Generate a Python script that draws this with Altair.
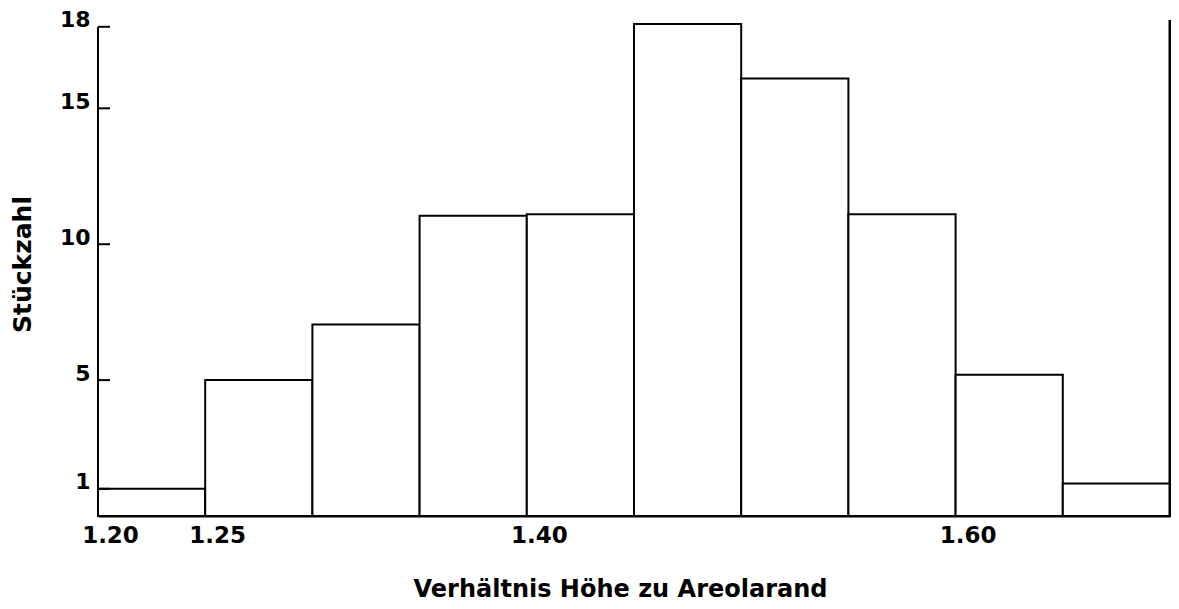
import altair as alt
import pandas as pd

# Histogram data
bin_start = [1.20, 1.25, 1.30, 1.35, 1.40, 1.45, 1.50, 1.55, 1.60, 1.65]
bin_end = [1.25, 1.30, 1.35, 1.40, 1.45, 1.50, 1.55, 1.60, 1.65, 1.70]
counts = [1.0, 5.0, 7.05, 11.05, 11.1, 18.1, 16.1, 11.1, 5.2, 1.2]
y_tick_values = [1, 5, 10, 15, 18]
x_label_values = [1.20, 1.25, 1.40, 1.60]
x_domain = [1.20, 1.70]
y_domain = [0, 18.25]
y_axis_span = [0, 18]

W, H = 1072, 496
FONT = "DejaVu Sans"

bars_df = pd.DataFrame({"start": bin_start, "end": bin_end, "count": counts})
ticks_df = pd.DataFrame({"count": y_tick_values})
yline_df = pd.DataFrame({"count": [y_axis_span[0]], "count_hi": [y_axis_span[1]]})
frame_df = pd.DataFrame({"start": [x_domain[1]]})

xs = alt.Scale(domain=x_domain, nice=False, zero=False)
ys = alt.Scale(domain=y_domain, nice=False)

bars = alt.Chart(bars_df).mark_rect(
    fill="white", stroke="black", strokeWidth=2
).encode(
    x=alt.X(
        "start:Q",
        scale=xs,
        axis=alt.Axis(
            values=x_label_values,
            format=".2f",
            ticks=False,
            grid=False,
            domain=True,
            domainColor="black",
            domainWidth=2,
            labelFont=FONT,
            labelFontSize=23,
            labelFontWeight="bold",
            labelColor="black",
            labelOffset=12,
            labelPadding=8,
            labelBaseline="top",
            labelFlush=False,
            labelOverlap=False,
            title="Verhältnis Höhe zu Areolarand",
            titleFont=FONT,
            titleFontSize=24,
            titleFontWeight="bold",
            titleColor="black",
            titleX=522,
            titleY=73,
            titleAlign="center",
            titleBaseline="middle",
        ),
    ),
    x2="end:Q",
    y=alt.Y(
        "count:Q",
        scale=ys,
        axis=alt.Axis(
            values=y_tick_values,
            ticks=False,
            grid=False,
            domain=False,
            labelFont=FONT,
            labelFontSize=22,
            labelFontWeight="bold",
            labelColor="black",
            labelBaseline="alphabetic",
            labelPadding=8,
            labelOverlap=False,
            title="Stückzahl",
            titleFont=FONT,
            titleFontSize=25,
            titleFontWeight="bold",
            titleColor="black",
            titleAngle=270,
            titleX=-76,
            titleY=244,
            titleAlign="center",
            titleBaseline="middle",
        ),
    ),
    y2=alt.datum(0),
)

yticks = alt.Chart(ticks_df).mark_rule(color="black", strokeWidth=2).encode(
    y=alt.Y("count:Q", scale=ys),
    x=alt.value(0),
    x2=alt.value(12),
)

yline = alt.Chart(yline_df).mark_rule(color="black", strokeWidth=2).encode(
    y=alt.Y("count:Q", scale=ys),
    y2="count_hi:Q",
    x=alt.value(0),
)

frame = alt.Chart(frame_df).mark_rule(color="black", strokeWidth=3).encode(
    x=alt.X("start:Q", scale=xs),
    y=alt.value(0),
    y2=alt.value(H),
)

chart = alt.layer(bars, yticks, yline, frame).properties(
    width=W,
    height=H,
    background="white",
    padding={"left": 90, "top": 12, "right": 1, "bottom": 85},
    autosize=alt.AutoSizeParams(type="none"),
).configure_view(stroke=None)

chart.save("out.html", embed_options={"renderer": "svg", "actions": False})
